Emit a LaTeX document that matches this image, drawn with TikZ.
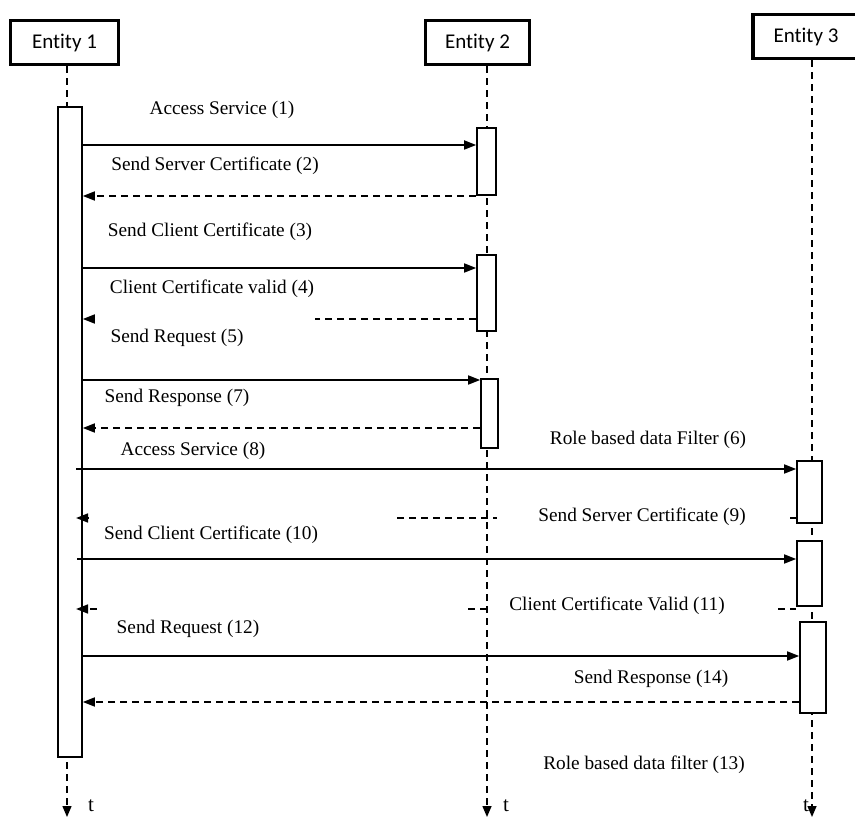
\documentclass[tikz,border=0pt]{standalone}
\usepackage{fontspec}
\setmainfont{Liberation Serif}
\newfontfamily\entityfont[RawFeature=-liga]{Carlito}
\usetikzlibrary{arrows.meta}

\begin{document}
\begin{tikzpicture}[x=1pt,y=-1pt,
  ent/.style={draw, line width=3.2pt, font=\entityfont\fontsize{21}{25}\selectfont,
    inner sep=0pt, minimum height=44pt},
  act/.style={draw, line width=1.7pt, fill=white, inner sep=0pt},
  life/.style={line width=1.5pt, dash pattern=on 7pt off 5pt,
    -{Triangle[length=11pt,width=9pt]}},
  msg/.style={line width=1.7pt, -{Triangle[length=12pt,width=9pt]}},
  ret/.style={msg, dash pattern=on 7pt off 5pt},
  gap/.style={line width=1.7pt, dash pattern=on 7pt off 5pt},
  lbl/.style={font=\fontsize{19.3}{23}\selectfont, inner sep=0pt},
  tlbl/.style={font=\fontsize{21}{25}\selectfont, inner sep=0pt},
]
\useasboundingbox (0,0) rectangle (855,818);

% participants
\node[ent, minimum width=108pt] (ent1) at (64.5,42.5) {Entity 1};
\node[ent, minimum width=104pt] (ent2) at (477.5,42.5) {Entity 2};
\node[ent, minimum width=106pt] (ent3) at (806,36.5) {Entity 3};

% time axes
\coordinate (t1) at (67,817);
\coordinate (t2) at (487,817);
\coordinate (t3) at (812,817);
\draw[life] (ent1.south -| t1) -- (t1);
\draw[life] (ent2.south -| t2) -- (t2);
\draw[life] (ent3.south -| t3) -- (t3);
\node[tlbl] (tl1) at (91,806) {t};
\node[tlbl] (tl2) at (506,806) {t};
\node[tlbl] (tl3) at (806,806) {t};

% activations
\node[act, minimum width=24pt, minimum height=650pt] (e1a) at (70,432) {};
\node[act, minimum width=19pt, minimum height=67pt] (e2a) at (486.5,161.5) {};
\node[act, minimum width=19pt, minimum height=76pt] (e2b) at (486.5,293) {};
\node[act, minimum width=17pt, minimum height=69pt] (e2c) at (489.5,413.5) {};
\node[act, minimum width=25pt, minimum height=62pt] (e3a) at (809.5,492) {};
\node[act, minimum width=25pt, minimum height=65pt] (e3b) at (809.5,573.5) {};
\node[act, minimum width=26pt, minimum height=91pt] (e3c) at (813,667.5) {};

% message rows
\coordinate (y1) at (0,145);
\coordinate (y2) at (0,196);
\coordinate (y3) at (0,268);
\coordinate (y4) at (0,319);
\coordinate (y5) at (0,380);
\coordinate (y7) at (0,428);
\coordinate (y8) at (0,469);
\coordinate (y9) at (0,518);
\coordinate (y10) at (0,559);
\coordinate (y11) at (0,609);
\coordinate (y12) at (0,656);
\coordinate (y14) at (0,702);

% free ends
\coordinate (f4) at (315,319);
\coordinate (h4) at (95,319);
\coordinate (s8) at (76,469);
\coordinate (f9a) at (397,518);
\coordinate (f9b) at (497,518);
\coordinate (f9c) at (790,518);
\coordinate (h9a) at (88,518);
\coordinate (h9b) at (76,518);
\coordinate (s10) at (77,559);
\coordinate (f11a) at (468,609);
\coordinate (f11b) at (490,609);
\coordinate (f11c) at (778,609);
\coordinate (h11a) at (97,609);
\coordinate (h11b) at (76,609);

% messages
\draw[msg] (e1a.east |- y1) -- (e2a.west |- y1);
\draw[ret] (e2a.west |- y2) -- (e1a.east |- y2);
\draw[msg] (e1a.east |- y3) -- (e2b.west |- y3);
\draw[gap] (e2b.west |- y4) -- (f4);
\draw[msg] (h4) -- (e1a.east |- y4);
\draw[msg] (e1a.east |- y5) -- (e2c.west |- y5);
\draw[ret] (e2c.west |- y7) -- (e1a.east |- y7);
\draw[msg] (s8) -- (e3a.west |- y8);
\draw[gap] (f9a) -- (f9b);
\draw[gap] (f9c) -- (e3a.west |- y9);
\draw[msg] (h9a) -- (h9b);
\draw[msg] (s10) -- (e3b.west |- y10);
\draw[gap] (f11a) -- (f11b);
\draw[gap] (f11c) -- (e3b.west |- y11);
\draw[ret] (h11a) -- (h11b);
\draw[msg] (e1a.east |- y12) -- (e3c.west |- y12);
\draw[ret] (e3c.west |- y14) -- (e1a.east |- y14);

% labels
\node[lbl] (l1) at (222,110) {Access Service (1)};
\node[lbl] (l2) at (215,166) {Send Server Certificate (2)};
\node[lbl] (l3) at (210,232) {Send Client Certificate (3)};
\node[lbl] (l4) at (212,289) {Client Certificate valid (4)};
\node[lbl] (l5) at (177,338) {Send Request (5)};
\node[lbl] (l7) at (177,398) {Send Response (7)};
\node[lbl] (l6) at (648,440) {Role based data Filter (6)};
\node[lbl] (l8) at (193,451) {Access Service (8)};
\node[lbl] (l9) at (642,517) {Send Server Certificate (9)};
\node[lbl] (l10) at (211,535) {Send Client Certificate (10)};
\node[lbl] (l11) at (617,606) {Client Certificate Valid (11)};
\node[lbl] (l12) at (188,629) {Send Request (12)};
\node[lbl] (l14) at (651,679) {Send Response (14)};
\node[lbl] (l13) at (644,765) {Role based data filter (13)};
\end{tikzpicture}
\end{document}
